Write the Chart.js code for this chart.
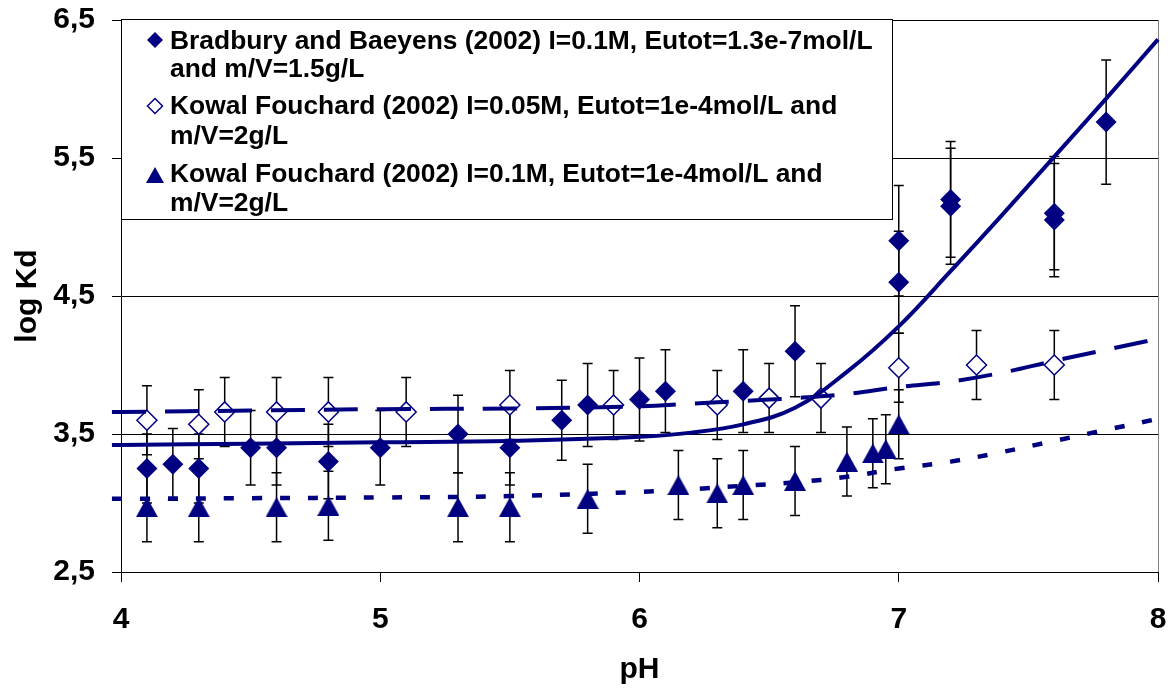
<!DOCTYPE html>
<html>
<head>
<meta charset="utf-8">
<script src="https://cdn.jsdelivr.net/npm/chart.js@4.4.1/dist/chart.umd.min.js"></script>
<style>
body { margin: 0; background: #fff; }
</style>
</head>
<body>
<canvas id="myChart" width="1176" height="693"></canvas>
<script>
var FONT = "'Liberation Sans', Arial, sans-serif";
var NAVY = '#000080';

// axis ticks
var xTicks = [4, 5, 6, 7, 8];
var yTicks = [2.5, 3.5, 4.5, 5.5, 6.5];
var yTickLabels = ['2,5', '3,5', '4,5', '5,5', '6,5'];

// Bradbury and Baeyens (2002) - filled diamonds
var bbPH = [4.1, 4.2, 4.3, 4.5, 4.6, 4.8, 5.0, 5.3, 5.5, 5.7, 5.8, 6.0, 6.1, 6.4, 6.6, 7.0, 7.0, 7.2, 7.2, 7.6, 7.6, 7.8];
var bbLogKd = [3.25, 3.28, 3.25, 3.40, 3.40, 3.30, 3.40, 3.50, 3.40, 3.60, 3.71, 3.75, 3.81, 3.81, 4.10, 4.60, 4.90, 5.15, 5.20, 5.05, 5.10, 5.76];
var bbErr = [0.25, 0.26, 0.25, 0.27, 0.27, 0.27, 0.27, 0.28, 0.27, 0.29, 0.30, 0.30, 0.30, 0.30, 0.33, 0.37, 0.40, 0.42, 0.42, 0.41, 0.41, 0.45];

// Kowal Fouchard (2002) I=0.05M - open diamonds
var kf05PH = [4.1, 4.3, 4.4, 4.6, 4.8, 5.1, 5.5, 5.9, 6.3, 6.5, 6.7, 7.0, 7.3, 7.6];
var kf05LogKd = [3.60, 3.57, 3.66, 3.66, 3.66, 3.66, 3.71, 3.71, 3.71, 3.76, 3.76, 3.98, 4.00, 4.00];
var kf05Err = [0.25, 0.25, 0.25, 0.25, 0.25, 0.25, 0.25, 0.25, 0.25, 0.25, 0.25, 0.25, 0.25, 0.25];

// Kowal Fouchard (2002) I=0.1M - triangles
var kf1PH = [4.1, 4.3, 4.6, 4.8, 5.3, 5.5, 5.8, 6.15, 6.3, 6.4, 6.6, 6.8, 6.9, 6.95, 7.0];
var kf1LogKd = [2.97, 2.97, 2.97, 2.98, 2.97, 2.97, 3.03, 3.13, 3.07, 3.13, 3.16, 3.30, 3.36, 3.39, 3.57];
var kf1Err = [0.25, 0.25, 0.25, 0.25, 0.25, 0.25, 0.25, 0.25, 0.25, 0.25, 0.25, 0.25, 0.25, 0.25, 0.25];

// model curves
var fitPH = [3.965, 4.0, 4.5, 5.0, 5.5, 6.0, 6.2, 6.4, 6.6, 6.8, 7.0, 7.2, 7.4, 7.6, 7.8, 8.0];
var fitBB = [3.42, 3.42, 3.43, 3.44, 3.45, 3.48, 3.51, 3.57, 3.69, 3.95, 4.28, 4.68, 5.09, 5.51, 5.93, 6.36];
var fitKF05 = [3.66, 3.66, 3.67, 3.68, 3.685, 3.70, 3.72, 3.74, 3.76, 3.79, 3.84, 3.88, 3.945, 4.03, 4.11, 4.19];
var fitKF1 = [3.03, 3.03, 3.035, 3.04, 3.05, 3.08, 3.10, 3.125, 3.15, 3.19, 3.25, 3.30, 3.37, 3.45, 3.53, 3.61];

var legendLines = [
    ['Bradbury and Baeyens (2002) I=0.1M, Eutot=1.3e-7mol/L', 'and m/V=1.5g/L'],
    ['Kowal Fouchard (2002) I=0.05M, Eutot=1e-4mol/L and', 'm/V=2g/L'],
    ['Kowal Fouchard (2002) I=0.1M, Eutot=1e-4mol/L and', 'm/V=2g/L']
];

function toPoints(xs, ys) {
    var pts = [];
    for (var i = 0; i < xs.length; i++) {
        pts.push({x: xs[i], y: ys[i]});
    }
    return pts;
}

// triangle centred on its bounding box, like the original markers
function makeTriangle(w, h, color) {
    var c = document.createElement('canvas');
    c.width = w;
    c.height = h;
    var g = c.getContext('2d');
    g.fillStyle = color;
    g.beginPath();
    g.moveTo(w / 2, 0);
    g.lineTo(w, h);
    g.lineTo(0, h);
    g.closePath();
    g.fill();
    return c;
}

// fixed axis sizes, no extra label overhang padding
function fixAxis(size) {
    return function(scale) {
        if (scale.isHorizontal()) scale.height = size;
        else scale.width = size;
        scale.paddingTop = 0;
        scale.paddingBottom = 0;
        scale.paddingLeft = 0;
        scale.paddingRight = 0;
    };
}

var errorBars = {
    id: 'errorBars',
    beforeDatasetsDraw: function(chart) {
        var ctx = chart.ctx;
        var xs = chart.scales.x;
        var ys = chart.scales.y;
        ctx.save();
        ctx.strokeStyle = '#000';
        ctx.lineWidth = 1.5;
        chart.data.datasets.forEach(function(ds) {
            if (!ds.errors) return;
            ds.data.forEach(function(p, i) {
                var x = xs.getPixelForValue(p.x);
                var top = ys.getPixelForValue(p.y + ds.errors[i]);
                var bot = ys.getPixelForValue(p.y - ds.errors[i]);
                ctx.beginPath();
                ctx.moveTo(x, top);
                ctx.lineTo(x, bot);
                ctx.moveTo(x - 5, top);
                ctx.lineTo(x + 5, top);
                ctx.moveTo(x - 5, bot);
                ctx.lineTo(x + 5, bot);
                ctx.stroke();
            });
        });
        ctx.restore();
    }
};

var boxLegend = {
    id: 'boxLegend',
    afterDraw: function(chart) {
        var ctx = chart.ctx;
        ctx.save();
        ctx.fillStyle = '#fff';
        ctx.fillRect(121.5, 19.5, 771, 200);
        ctx.strokeStyle = '#000';
        ctx.lineWidth = 1;
        ctx.strokeRect(121.5, 19.5, 771, 200);

        var baselines = [[49, 77], [114, 144], [182, 211]];
        var markerY = [40, 106, 175];
        var mx = 155;

        // markers
        ctx.fillStyle = NAVY;
        ctx.strokeStyle = NAVY;
        ctx.beginPath();
        ctx.moveTo(mx - 8, markerY[0]);
        ctx.lineTo(mx, markerY[0] - 8);
        ctx.lineTo(mx + 8, markerY[0]);
        ctx.lineTo(mx, markerY[0] + 8);
        ctx.closePath();
        ctx.fill();

        ctx.lineWidth = 1.5;
        ctx.beginPath();
        ctx.moveTo(mx - 7.5, markerY[1]);
        ctx.lineTo(mx, markerY[1] - 7.5);
        ctx.lineTo(mx + 7.5, markerY[1]);
        ctx.lineTo(mx, markerY[1] + 7.5);
        ctx.closePath();
        ctx.stroke();

        ctx.beginPath();
        ctx.moveTo(mx, markerY[2] - 8);
        ctx.lineTo(mx + 9, markerY[2] + 8);
        ctx.lineTo(mx - 9, markerY[2] + 8);
        ctx.closePath();
        ctx.fill();

        ctx.fillStyle = '#000';
        ctx.font = 'bold 26.4px ' + FONT;
        ctx.textBaseline = 'alphabetic';
        ctx.textAlign = 'left';
        for (var i = 0; i < legendLines.length; i++) {
            for (var j = 0; j < legendLines[i].length; j++) {
                ctx.fillText(legendLines[i][j], 170, baselines[i][j]);
            }
        }
        ctx.restore();
    }
};

var tickFont = {family: FONT, size: 30, weight: 'bold'};

var ctx = document.getElementById('myChart');
var myChart = new Chart(ctx, {
    type: 'scatter',
    data: {
        datasets: [{
            label: 'fit BB',
            data: toPoints(fitPH, fitBB),
            showLine: true,
            borderColor: NAVY,
            borderWidth: 4,
            pointRadius: 0,
            tension: 0.4,
            clip: false
        }, {
            label: 'fit KF 0.05M',
            data: toPoints(fitPH, fitKF05),
            showLine: true,
            borderColor: NAVY,
            borderWidth: 4,
            borderDash: [34, 19],
            pointRadius: 0,
            tension: 0.4,
            clip: false
        }, {
            label: 'fit KF 0.1M',
            data: toPoints(fitPH, fitKF1),
            showLine: true,
            borderColor: NAVY,
            borderWidth: 4.5,
            borderDash: [10, 18],
            pointRadius: 0,
            tension: 0.4,
            clip: false
        }, {
            label: legendLines[0].join(' '),
            data: toPoints(bbPH, bbLogKd),
            errors: bbErr,
            pointStyle: 'rectRot',
            pointRadius: 10.5,
            backgroundColor: NAVY,
            borderColor: NAVY,
            borderWidth: 0
        }, {
            label: legendLines[1].join(' '),
            data: toPoints(kf05PH, kf05LogKd),
            errors: kf05Err,
            pointStyle: 'rectRot',
            pointRadius: 10,
            backgroundColor: '#fff',
            borderColor: NAVY,
            borderWidth: 1.5
        }, {
            label: legendLines[2].join(' '),
            data: toPoints(kf1PH, kf1LogKd),
            errors: kf1Err,
            pointStyle: makeTriangle(22, 20, NAVY),
            pointRadius: 10,
            backgroundColor: NAVY,
            borderColor: NAVY
        }]
    },
    options: {
        responsive: false,
        animation: false,
        layout: {
            padding: {top: 20, right: 18, left: 0, bottom: 0}
        },
        plugins: {
            legend: {display: false},
            tooltip: {enabled: false}
        },
        scales: {
            x: {
                type: 'linear',
                min: 4,
                max: 8,
                afterBuildTicks: function(axis) {
                    axis.ticks = xTicks.map(function(v) { return {value: v}; });
                },
                afterFit: fixAxis(121),
                ticks: {
                    font: tickFont,
                    color: '#000',
                    padding: 20,
                    maxRotation: 0
                },
                grid: {
                    color: function(c) { return c.tick && c.tick.value === 8 ? '#808080' : 'rgba(0,0,0,0)'; },
                    tickColor: '#000',
                    tickLength: 10,
                    lineWidth: 1
                },
                border: {color: '#000', width: 1},
                title: {
                    display: true,
                    text: 'pH',
                    font: tickFont,
                    color: '#000',
                    padding: {top: 0, bottom: 5}
                }
            },
            y: {
                type: 'linear',
                min: 2.5,
                max: 6.5,
                afterBuildTicks: function(axis) {
                    axis.ticks = yTicks.map(function(v) { return {value: v}; });
                },
                afterFit: fixAxis(121),
                ticks: {
                    font: tickFont,
                    color: '#000',
                    padding: 17,
                    callback: function(value, index) { return yTickLabels[index]; }
                },
                grid: {
                    color: '#000',
                    tickColor: '#000',
                    tickLength: 9,
                    lineWidth: 1
                },
                border: {color: '#000', width: 1},
                title: {
                    display: true,
                    text: 'log Kd',
                    font: tickFont,
                    color: '#000',
                    padding: {top: 10, bottom: 0}
                }
            }
        }
    },
    plugins: [errorBars, boxLegend]
});
</script>
</body>
</html>
